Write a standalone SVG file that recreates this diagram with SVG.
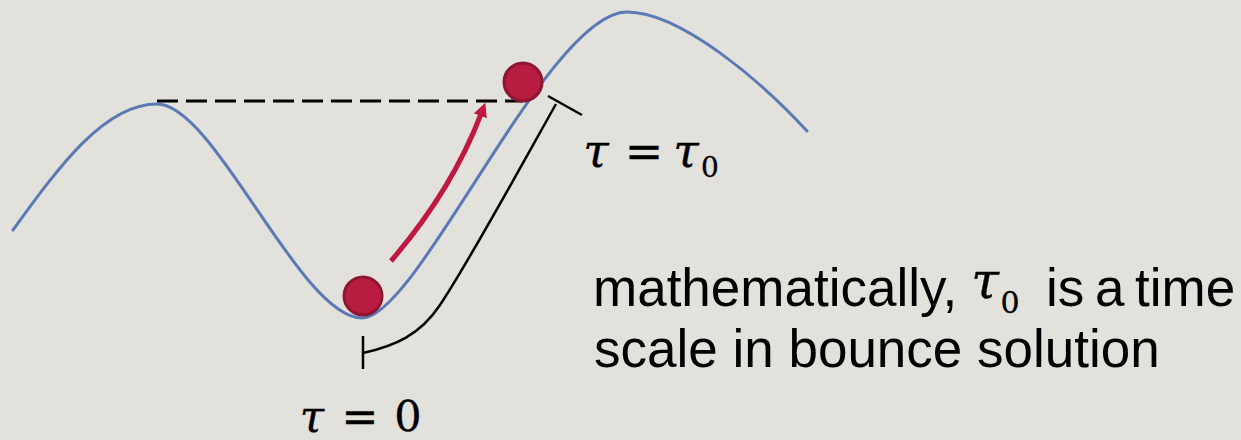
<svg xmlns="http://www.w3.org/2000/svg" width="1241" height="440" viewBox="0 0 1241 440">
  <style>
    .curve { fill: none; stroke: #5b79b5; stroke-width: 3; stroke-linecap: round; }
    .level { fill: none; stroke: #000; stroke-width: 3; stroke-dasharray: 21 8; }
    .ball { fill: #b81c40; stroke: #8e1632; stroke-width: 3; }
    .arrow { fill: none; stroke: #c0183f; stroke-width: 5; }
    .bracket { fill: none; stroke: #000; stroke-width: 2.5; }
    .sans { font-family: "Liberation Sans", Arial, sans-serif; font-size: 53px; fill: #000; }
    .math { font-family: "DejaVu Serif", "Liberation Serif", serif; fill: #000; stroke: #000; stroke-width: 0.35; text-anchor: middle; }
    .it { font-style: italic; }
  </style>
  <defs>
    <marker id="ah" markerUnits="userSpaceOnUse" markerWidth="14" markerHeight="14" refX="2" refY="7" orient="auto">
      <path d="M0,0 L14,7 L0,14 z" fill="#c0183f"/>
    </marker>
  </defs>
  <rect width="1241" height="440" fill="#e3e1dc"/>

  <g id="potential">
    <path class="curve" d="M13,230 C60,165 105,104 157,104 C215,104 300,318 362,318 C418,318 548,12 627,12 C680,12 760,80 807,131"/>
  </g>

  <g id="level-line">
    <line class="level" x1="157" y1="101" x2="523" y2="101"/>
  </g>

  <g id="ball-bottom">
    <circle class="ball" cx="363" cy="296" r="19"/>
  </g>
  <g id="ball-top">
    <circle class="ball" cx="523" cy="82" r="19"/>
  </g>

  <g id="connectors">
    <path class="arrow" d="M391,261 Q452,190 481,114" marker-end="url(#ah)"/>
    <path class="bracket" d="M556,104 C530,150 470,260 440,305 C420,335 395,346 363,353"/>
    <line class="bracket" x1="548" y1="96" x2="582" y2="115"/>
    <line class="bracket" x1="363" y1="336" x2="363" y2="369"/>
  </g>

  <g id="label-tau0">
    <text class="math it" x="596" y="167" font-size="46">τ</text>
    <text class="math" x="644" y="167" font-size="46">=</text>
    <text class="math it" x="686" y="167" font-size="46">τ</text>
    <text class="math" x="710" y="177" font-size="28">0</text>
  </g>

  <g id="label-tau-zero">
    <text class="math it" x="312" y="432" font-size="44">τ</text>
    <text class="math" x="360" y="432" font-size="44">=</text>
    <text class="math" x="408" y="431" font-size="43">0</text>
  </g>

  <g id="note">
    <text class="sans" x="593" y="306">mathematically,</text>
    <text class="math it" x="985" y="298" font-size="50">τ</text>
    <text class="math" x="1010" y="313" font-size="30">0</text>
    <text class="sans" x="1046" y="306">is</text>
    <text class="sans" x="1095" y="306">a</text>
    <text class="sans" x="1135" y="306">time</text>
    <text class="sans" x="594" y="367">scale in bounce solution</text>
  </g>
</svg>
